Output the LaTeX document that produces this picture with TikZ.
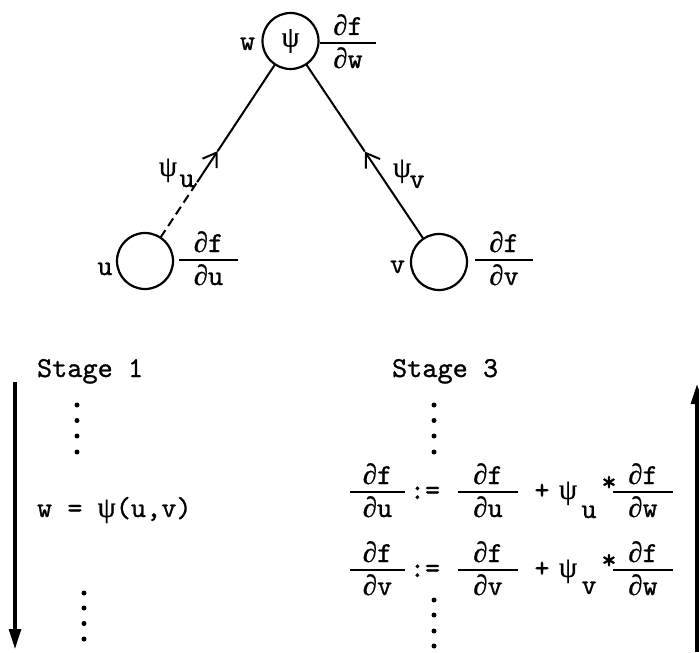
\documentclass[tikz,border=0pt]{standalone}
\usepackage{fontspec}
\newfontfamily\tw{lmmono10-regular.otf}[FakeBold=0.9]
\newfontfamily\gk[FakeBold=0.5]{Liberation Serif}
\newcommand\ps{{\gk ψ}}
\newcommand\pd{{\gk ∂}}
\usetikzlibrary{arrows.meta}
\newcommand\pfr[6]{% name, x, y of rule, half width, numerator, denominator
  \coordinate (#1a) at ({#2-#4},#3);
  \coordinate (#1b) at ({#2+#4},#3);
  \draw[fracrule] (#1a) -- (#1b);
  \node[anchor=base] (#1n) at (#2,{#3-8}) {#5};
  \node[anchor=base] (#1d) at (#2,{#3+25}) {#6};
}
\begin{document}
\begin{tikzpicture}[x=1bp,y=-1bp,
  every node/.style={font=\tw\fontsize{29}{34}\selectfont, inner sep=0pt, outer sep=0pt},
  vertex/.style={circle, draw, line width=2.2bp, minimum size=56bp},
  edgeline/.style={line width=2bp},
  barb/.style={line width=2bp, -{Straight Barb[length=13bp,width=17bp]}},
  fracrule/.style={line width=2.2bp},
  stagearrow/.style={line width=3.2bp, -{Triangle[length=20bp,width=12bp]}},
  dot/.style={circle, fill, minimum size=5bp, inner sep=0pt},
]
\useasboundingbox (0,0) rectangle (699,653);

% graph
\node[vertex] (w) at (290.5,41) {\ps};
\node[vertex] (u) at (145,261) {};
\node[vertex] (v) at (439,262) {};
\node[anchor=base] (wl) at (247.5,50) {w};
\node[anchor=base] (ul) at (105,275) {u};
\node[anchor=base] (vl) at (397.5,273) {v};
\pfr{fw}{348}{43}{28}{\pd f}{\pd w}
\pfr{fu}{208.5}{260}{29.5}{\pd f}{\pd u}
\pfr{fv}{504}{260}{29}{\pd f}{\pd v}

\path (u) -- coordinate[pos=0.32] (ud) coordinate[pos=0.5] (um) (w);
\path (v) -- coordinate[pos=0.5] (vm) (w);
\draw[edgeline, dash pattern=on 9bp off 5bp] (u) -- (ud);
\draw[barb] (ud) -- (um);
\draw[edgeline] (um) -- (w);
\draw[barb] (v) -- (vm);
\draw[edgeline] (vm) -- (w);

\node[anchor=base] (psu) at (168,176) {\ps};
\node[anchor=base] (psus) at (187,187) {u};
\node[anchor=base] (psv) at (402,177) {\ps};
\node[anchor=base] (psvs) at (417,188) {v};

% stage 1
\node[anchor=base west] (s1) at (37,377) {Stage 1};
\foreach \i/\y in {1/405,2/420.5,3/436,4/452} \node[dot] (la\i) at (77,\y) {};
\node[anchor=base west] (eq1) at (37,517) {w = \ps(u,v)};
\foreach \i/\y in {1/593,2/608,3/623.5,4/639} \node[dot] (lb\i) at (84,\y) {};
\coordinate (a1s) at (15,382);
\coordinate (a1e) at (15,649);
\draw[stagearrow] (a1s) -- (a1e);

% stage 3
\node[anchor=base west] (s3) at (392,377) {Stage 3};
\foreach \i/\y in {1/405,2/420.5,3/436,4/452} \node[dot] (ra\i) at (434,\y) {};
\foreach \i/\y in {1/600,2/615,3/631,4/646} \node[dot] (rb\i) at (434,\y) {};

% row 1
\pfr{ra}{377.5}{492}{27.5}{\pd f}{\pd u}
\node[anchor=base] (as1) at (425,499) {:=};
\pfr{rb}{488}{492}{30}{\pd f}{\pd u}
\node[anchor=base] (pl1) at (542,499) {+};
\node[anchor=base] (ps1) at (568,499) {\ps};
\node[anchor=base] (ps1s) at (589,518) {u};
\node[anchor=base] (st1) at (609,491) {*};
\pfr{rc}{643}{492}{30}{\pd f}{\pd w}

% row 2
\pfr{sa}{377.5}{570}{27.5}{\pd f}{\pd v}
\node[anchor=base] (as2) at (425,577) {:=};
\pfr{sb}{488}{570}{30}{\pd f}{\pd v}
\node[anchor=base] (pl2) at (542,577) {+};
\node[anchor=base] (ps2) at (568,577) {\ps};
\node[anchor=base] (ps2s) at (589,594) {v};
\node[anchor=base] (st2) at (609,569) {*};
\pfr{sc}{643}{570}{30}{\pd f}{\pd w}

\coordinate (a3s) at (697,652);
\coordinate (a3e) at (697,384);
\draw[stagearrow] (a3s) -- (a3e);
\end{tikzpicture}
\end{document}
